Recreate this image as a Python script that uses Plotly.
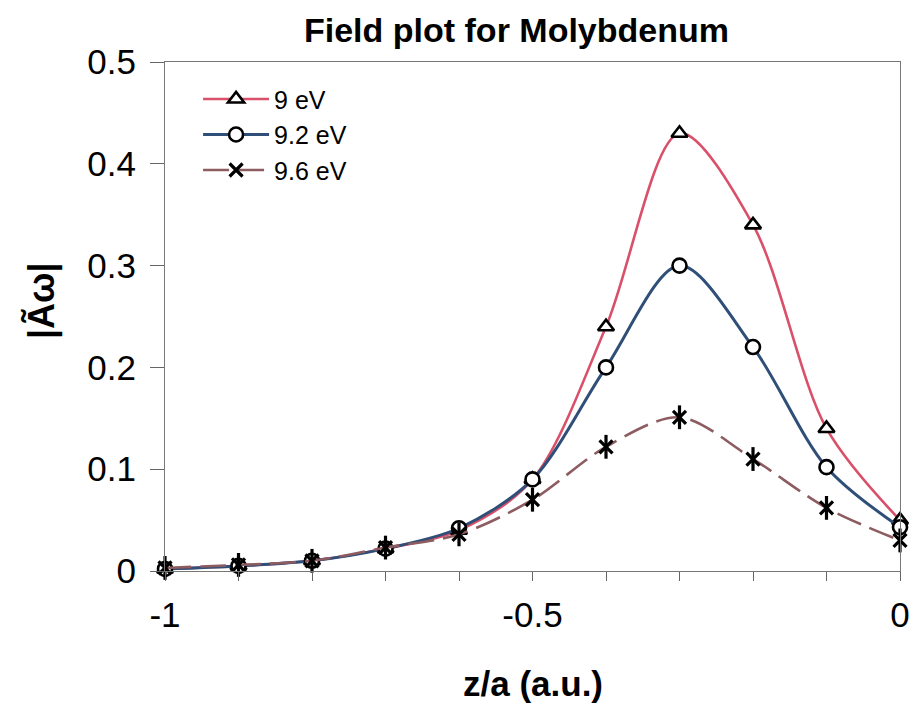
import plotly.graph_objects as go

# Position along the axis, z/a (a.u.)
z = [-1.0, -0.9, -0.8, -0.7, -0.6, -0.5, -0.4, -0.3, -0.2, -0.1, 0.0]

# |A~ω| field amplitude for each photon energy
field_9_0 = [0.002, 0.005, 0.010, 0.022, 0.040, 0.090, 0.240, 0.430, 0.340, 0.140, 0.050]
field_9_2 = [0.002, 0.005, 0.010, 0.022, 0.042, 0.090, 0.200, 0.300, 0.220, 0.102, 0.043]
field_9_6 = [0.003, 0.006, 0.010, 0.023, 0.036, 0.070, 0.122, 0.151, 0.110, 0.062, 0.030]

series_names = ["9 eV", "9.2 eV", "9.6 eV"]
x_tick_vals = [-1, -0.5, 0]
x_tick_text = ["-1", "-0.5", "0"]
y_tick_vals = [0, 0.1, 0.2, 0.3, 0.4, 0.5]
y_tick_text = ["0", "0.1", "0.2", "0.3", "0.4", "0.5"]

FONT = "Liberation Sans, Arial, sans-serif"
RED = "#d9506a"
BLUE = "#2f4f78"
BROWN = "#8c5c60"

fig = go.Figure()

marker_common = dict(size=14, color="white", line=dict(color="black", width=2.6))

fig.add_trace(go.Scatter(
    x=z, y=field_9_0, name=series_names[0], mode="lines+markers",
    line=dict(color=RED, width=2.6, shape="spline", smoothing=0.9),
    marker=dict(symbol="triangle-up", **marker_common),
    cliponaxis=False,
))
fig.add_trace(go.Scatter(
    x=z, y=field_9_2, name=series_names[1], mode="lines+markers",
    line=dict(color=BLUE, width=3, shape="spline", smoothing=0.9),
    marker=dict(symbol="circle", **marker_common),
    cliponaxis=False,
))
fig.add_trace(go.Scatter(
    x=z, y=field_9_6, name=series_names[2], mode="lines+markers",
    line=dict(color=BROWN, width=2.6, shape="spline", smoothing=0.9, dash="26px,9px"),
    marker=dict(symbol="x-thin-open", size=13, color="black", line=dict(color="black", width=3.2)),
    legendgroup="g96", cliponaxis=False,
))
# vertical stroke that completes the six-ray star marker
fig.add_trace(go.Scatter(
    x=z, y=field_9_6, mode="markers", showlegend=False, legendgroup="g96",
    marker=dict(symbol="line-ns-open", size=17, color="black", line=dict(color="black", width=3.2)),
    cliponaxis=False, hoverinfo="skip",
))

axis_font = dict(family=FONT, size=35, color="black")

fig.update_xaxes(
    range=[-1, 0], tickvals=x_tick_vals, ticktext=x_tick_text,
    ticks="outside", ticklen=9, tickwidth=1, tickcolor="#666",
    minor=dict(dtick=0.1, ticks="outside", ticklen=9, tickwidth=1, tickcolor="#666", showgrid=False),
    showline=True, linecolor="#777", linewidth=1, mirror=True,
    showgrid=False, zeroline=False, tickfont=axis_font, ticklabelstandoff=4,
)
fig.update_yaxes(
    range=[0, 0.5], tickvals=y_tick_vals, ticktext=y_tick_text,
    ticks="outside", ticklen=14, tickwidth=1, tickcolor="#666",
    showline=True, linecolor="#777", linewidth=1, mirror=True,
    showgrid=False, zeroline=False, tickfont=axis_font, ticklabelstandoff=7,
)

fig.update_layout(
    width=922, height=706,
    margin=dict(l=165, r=16, t=62, b=135),
    paper_bgcolor="white", plot_bgcolor="white",
    font=dict(family=FONT, color="black"),
    showlegend=True,
    legend=dict(
        x=0.045, y=0.972, xanchor="left", yanchor="top",
        bgcolor="rgba(0,0,0,0)", font=dict(family=FONT, size=25, color="black"),
        itemwidth=66, tracegroupgap=0,
    ),
    annotations=[
        dict(text="<b>Field plot for Molybdenum</b>", xref="paper", yref="paper",
             x=0.478, y=1.063, xanchor="center", yanchor="middle", showarrow=False,
             font=dict(family=FONT, size=34, color="black")),
        dict(text="<b>z/a (a.u.)</b>", xref="paper", yref="paper",
             x=0.5, y=-0.222, xanchor="center", yanchor="middle", showarrow=False,
             font=dict(family=FONT, size=35, color="black")),
        dict(text="<b>|Ãω|</b>", xref="paper", yref="paper",
             x=-0.169, y=0.532, xanchor="center", yanchor="middle", showarrow=False,
             textangle=-90, font=dict(family=FONT, size=36, color="black")),
    ],
)

fig.write_html("out.html")
